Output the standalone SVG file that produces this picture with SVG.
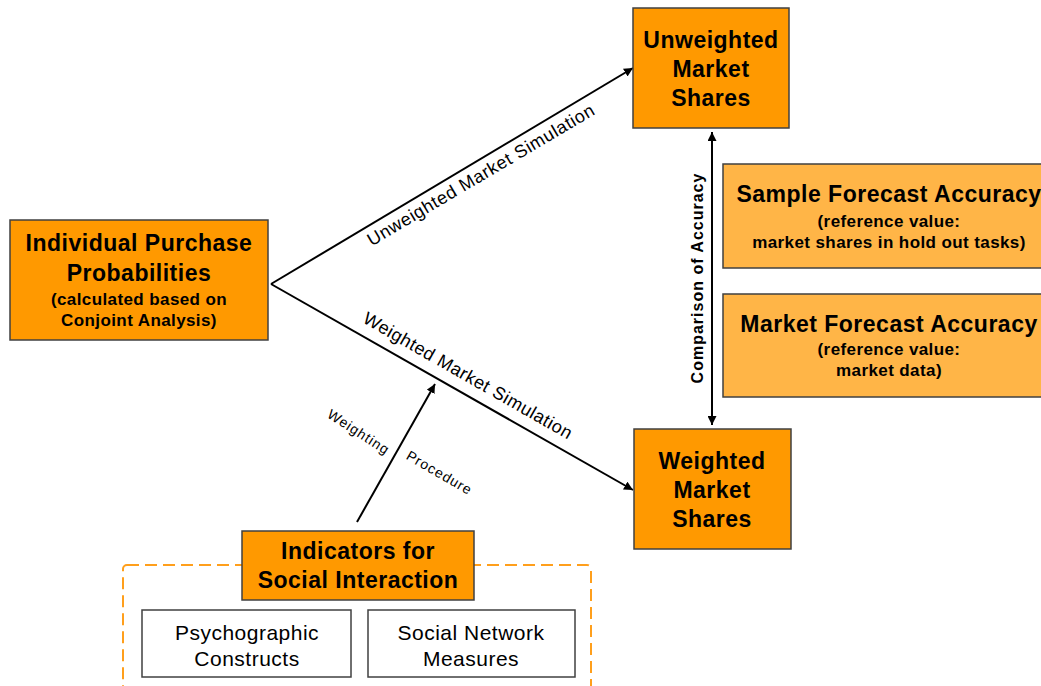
<svg xmlns="http://www.w3.org/2000/svg" width="1041" height="686" viewBox="0 0 1041 686">
<defs>
<style>
.box{fill:#FF9900;stroke:#404040;stroke-width:1.5}
.lbox{fill:#FFB547;stroke:#404040;stroke-width:1.5}
.wbox{fill:#FFFFFF;stroke:#404040;stroke-width:1.5}
.t{font-family:"Liberation Sans",Arial,sans-serif;fill:#000;text-anchor:middle}
.h{font-size:23px;font-weight:bold;letter-spacing:0.5px}
.s{font-size:17px;font-weight:bold;letter-spacing:0.4px}
.r{font-size:21px;letter-spacing:0.5px}
.c{stroke:#000;stroke-width:2;fill:none}
</style>
<marker id="ah" viewBox="0 0 10 10" refX="10" refY="5" markerWidth="9" markerHeight="9" markerUnits="userSpaceOnUse" orient="auto-start-reverse">
<path d="M0,0 L10,5 L0,10 z" fill="#000"/>
</marker>
</defs>
<rect width="1041" height="686" fill="#fff"/>
<g id="group-social">
<rect x="123" y="565" width="468" height="125" rx="4" fill="none" stroke="#FF9F1C" stroke-width="2" stroke-dasharray="12 6"/>
</g>
<g id="connectors">
<line class="c" x1="271" y1="284" x2="633" y2="68" marker-end="url(#ah)"/>
<line class="c" x1="271" y1="284" x2="633" y2="490" marker-end="url(#ah)"/>
<line class="c" x1="357" y1="522" x2="435" y2="384" marker-end="url(#ah)"/>
<line class="c" x1="712" y1="132" x2="712" y2="425" marker-start="url(#ah)" marker-end="url(#ah)"/>
<text class="t" font-size="18" letter-spacing="0.6" transform="translate(484,180) rotate(-30.6)">Unweighted Market Simulation</text>
<text class="t" font-size="18" letter-spacing="0.5" transform="translate(465,381) rotate(29.7)">Weighted Market Simulation</text>
<text class="t" font-size="14" letter-spacing="1" transform="translate(356,436) rotate(33)">Weighting</text>
<text class="t" font-size="14" letter-spacing="1" transform="translate(437,477) rotate(30)">Procedure</text>
<text class="t" font-size="16" font-weight="bold" letter-spacing="1" transform="translate(703,278) rotate(-90)">Comparison of Accuracy</text>
</g>
<g id="individual">
<rect class="box" x="10" y="220" width="258" height="120"/>
<text class="t h" x="139" y="251">Individual Purchase</text>
<text class="t h" x="139" y="281">Probabilities</text>
<text class="t s" x="139" y="305">(calculated based on</text>
<text class="t s" x="139" y="326">Conjoint Analysis)</text>
</g>
<g id="unweighted">
<rect class="box" x="633" y="8" width="156" height="120"/>
<text class="t h" x="711" y="48">Unweighted</text>
<text class="t h" x="711" y="77">Market</text>
<text class="t h" x="711" y="106">Shares</text>
</g>
<g id="weighted">
<rect class="box" x="634" y="429" width="157" height="120"/>
<text class="t h" x="712" y="469">Weighted</text>
<text class="t h" x="712" y="498">Market</text>
<text class="t h" x="712" y="527">Shares</text>
</g>
<g id="sample">
<rect class="lbox" x="723" y="164" width="340" height="104"/>
<text class="t h" x="889" y="202">Sample Forecast Accuracy</text>
<text class="t s" x="889" y="227">(reference value:</text>
<text class="t s" x="889" y="248">market shares in hold out tasks)</text>
</g>
<g id="market">
<rect class="lbox" x="723" y="294" width="340" height="103"/>
<text class="t h" x="889" y="332">Market Forecast Accuracy</text>
<text class="t s" x="889" y="355">(reference value:</text>
<text class="t s" x="889" y="376">market data)</text>
</g>
<g id="indicators">
<rect class="box" x="242" y="531" width="232" height="69"/>
<text class="t h" x="358" y="559">Indicators for</text>
<text class="t h" x="358" y="588">Social Interaction</text>
</g>
<g id="psychographic">
<rect class="wbox" x="142" y="610" width="209" height="67"/>
<text class="t r" x="247" y="640">Psychographic</text>
<text class="t r" x="247" y="666">Constructs</text>
</g>
<g id="socialnetwork">
<rect class="wbox" x="368" y="610" width="207" height="67"/>
<text class="t r" x="471" y="640">Social Network</text>
<text class="t r" x="471" y="666">Measures</text>
</g>
</svg>
